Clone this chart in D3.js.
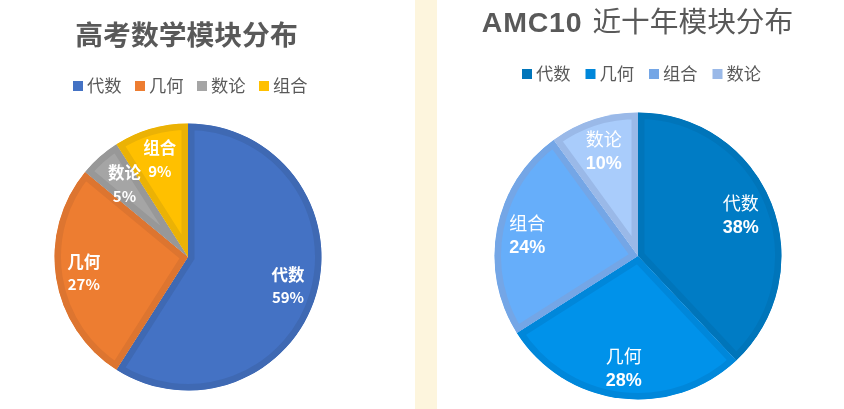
<!DOCTYPE html>
<html>
<head>
<meta charset="utf-8">
<script src="https://cdn.jsdelivr.net/npm/d3@7.9.0/dist/d3.min.js"></script>
<style>
  html, body { margin: 0; padding: 0; background: #fff; }
  svg { display: block; filter: blur(0.35px); }
  text { font-family: "Noto Sans CJK SC", "Noto Sans", sans-serif; }
</style>
</head>
<body>
<svg id="chart" width="844" height="409"></svg>
<script>
// left chart
const gaokaoTitle = '高考数学模块分布';
const gaokaoCategories = ['代数', '几何', '数论', '组合'];
const gaokaoValues = [59, 27, 5, 9];
const gaokaoFill = ['#4472c4', '#ed7d31', '#a5a5a5', '#ffc000'];
const gaokaoEdge = ['#3f69b3', '#dd7530', '#989898', '#ebb205'];

// right chart
const amcTitleLatin = 'AMC10';
const amcTitleCjk = '近十年模块分布';
const amcCategories = ['代数', '几何', '组合', '数论'];
const amcValues = [38, 28, 24, 10];
const amcFill = ['#007cc5', '#0092ea', '#66aefa', '#a9ccfb'];
const amcEdge = ['#0075ba', '#0087da', '#74a6e6', '#9ab9e8'];

const svg = d3.select('#chart');
const textColor = '#595959';

// cream strip between the two panels
svg.append('rect')
  .attr('x', 415).attr('y', 0)
  .attr('width', 22).attr('height', 409)
  .attr('fill', '#fdf5dd');

function drawPie(opts) {
  const { id, cx, cy, r, categories, values, fill, edge, labelAt } = opts;
  const color = d3.scaleOrdinal().domain(categories).range(fill);
  const edgeColor = d3.scaleOrdinal().domain(categories).range(edge);

  const pie = d3.pie().sort(null).value((d, i) => values[i]);
  const arcs = pie(categories);
  const arc = d3.arc().innerRadius(0).outerRadius(r);

  const g = svg.append('g').attr('transform', `translate(${cx},${cy})`);

  // each slice gets an inner border, so clip a double-width stroke to the slice
  const defs = svg.append('defs');
  arcs.forEach((d, i) => {
    defs.append('clipPath').attr('id', `${id}-clip-${i}`)
      .append('path').attr('d', arc(d));
  });

  g.selectAll('path.slice')
    .data(arcs)
    .join('path')
    .attr('class', 'slice')
    .attr('d', arc)
    .attr('fill', d => color(d.data))
    .attr('stroke', d => edgeColor(d.data))
    .attr('stroke-width', 13)
    .attr('clip-path', (d, i) => `url(#${id}-clip-${i})`);

  // labels sit at a slightly different radius in each slice
  const labelPos = (d, i) => {
    const lr = r * labelAt[i];
    return d3.arc().innerRadius(lr).outerRadius(lr).centroid(d);
  };

  const labels = g.selectAll('g.label')
    .data(arcs)
    .join('g')
    .attr('class', 'label')
    .attr('transform', (d, i) => `translate(${labelPos(d, i)})`)
    .attr('fill', '#fff')
    .attr('text-anchor', 'middle');

  labels.append('text')
    .attr('y', -11.5)
    .attr('dy', '0.36em')
    .attr('font-size', opts.labelSize)
    .attr('font-weight', opts.nameWeight)
    .text(d => d.data);

  labels.append('text')
    .attr('y', 11.5)
    .attr('dy', '0.36em')
    .attr('font-size', opts.pctSize)
    .attr('font-weight', 700)
    .style('font-family', opts.pctFont)
    .text(d => `${d.value}%`);
}

function drawLegend(opts) {
  const { x, y, step, categories, swatch } = opts;
  const pos = d3.scalePoint()
    .domain(categories)
    .range([x, x + step * (categories.length - 1)]);

  const items = svg.selectAll(null)
    .data(categories)
    .join('g')
    .attr('transform', d => `translate(${pos(d)},${y})`);

  items.append('rect')
    .attr('y', -5)
    .attr('width', 10).attr('height', 10)
    .attr('fill', (d, i) => swatch[i]);

  items.append('text')
    .attr('x', 14)
    .attr('dy', '0.36em')
    .attr('font-size', 17.3)
    .attr('fill', textColor)
    .text(d => d);
}

// left panel
svg.append('text')
  .attr('x', 186.5).attr('y', 35)
  .attr('dy', '0.36em')
  .attr('text-anchor', 'middle')
  .attr('font-size', 27.8)
  .attr('font-weight', 700)
  .attr('fill', textColor)
  .text(gaokaoTitle);

drawLegend({ x: 73, y: 86, step: 62, categories: gaokaoCategories, swatch: gaokaoFill });

drawPie({
  id: 'gaokao', cx: 188, cy: 257, r: 133.5,
  categories: gaokaoCategories, values: gaokaoValues,
  fill: gaokaoFill, edge: gaokaoEdge,
  labelAt: [0.78, 0.79, 0.72, 0.757],
  labelSize: 16.5, pctSize: 15, nameWeight: 700,
  pctFont: '"Noto Sans CJK SC", sans-serif'
});

// right panel
const amcTitle = svg.append('text')
  .attr('x', 637.5).attr('y', 26)
  .attr('dy', '0.36em')
  .attr('text-anchor', 'middle')
  .attr('fill', textColor);

amcTitle.append('tspan')
  .attr('font-size', 28.5)
  .attr('font-weight', 700)
  .attr('letter-spacing', 0.8)
  .style('font-family', '"Liberation Sans", sans-serif')
  .text(amcTitleLatin);

amcTitle.append('tspan')
  .attr('dx', 10)
  .attr('font-size', 28.7)
  .text(amcTitleCjk);

drawLegend({ x: 522, y: 74, step: 63.5, categories: amcCategories, swatch: amcEdge });

drawPie({
  id: 'amc', cx: 638, cy: 256, r: 143.5,
  categories: amcCategories, values: amcValues,
  fill: amcFill, edge: amcEdge,
  labelAt: [0.77, 0.79, 0.785, 0.77],
  labelSize: 18, pctSize: 18, nameWeight: 400,
  pctFont: '"Liberation Sans", sans-serif'
});
</script>
</body>
</html>
